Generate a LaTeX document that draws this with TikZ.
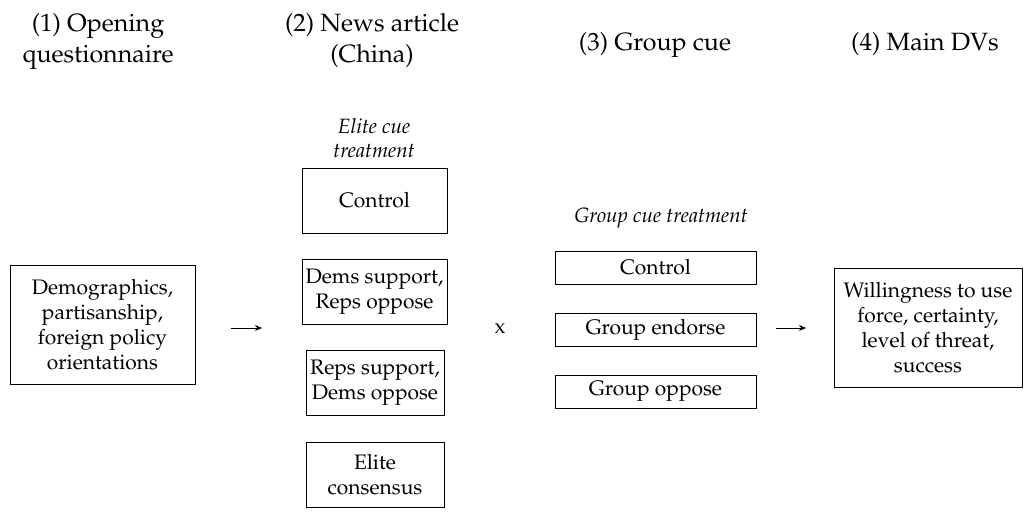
\documentclass[tikz,border=0pt]{standalone}
\usepackage[T1]{fontenc}
\usepackage{mathpazo}
\usetikzlibrary{arrows.meta}
\newcommand\bxfont{\fontsize{21}{25}\selectfont}
\newcommand\hdfont{\fontsize{25}{31}\selectfont}
\newcommand\lblfont{\fontsize{20.7}{24}\selectfont\itshape}
\begin{document}
\begin{tikzpicture}[x=1pt,y=1pt,
 bx/.style={draw,line width=0.8pt,align=center,inner sep=0pt,font=\bxfont},
 hd/.style={align=center,inner sep=0pt,font=\hdfont},
 lbl/.style={align=center,inner sep=0pt,font=\lblfont},
 arr/.style={line width=0.8pt,-{Stealth[length=7pt,width=6pt]}}]
\useasboundingbox (0,0) rectangle (1024,-527);
\node[hd] (h1) at (98,-41) {(1) Opening\\questionnaire};
\node[hd] (h2) at (372,-41) {(2) News article\\(China)};
\node[hd,anchor=base] (h3) at (655,-50) {(3) Group cue};
\node[hd,anchor=base] (h4) at (925,-50) {(4) Main DVs};
\node[bx,minimum width=185,minimum height=119] (demo) at (102.5,-324.5) {Demographics,\\partisanship,\\foreign policy\\orientations};
\node[lbl] (elbl) at (374,-138) {Elite cue\\treatment};
\node[bx,minimum width=145,minimum height=65] (e1) at (374.5,-200.5) {Control};
\node[bx,minimum width=145,minimum height=65] (e2) at (374.5,-291.5) {Dems support,\\Reps oppose};
\node[bx,minimum width=138,minimum height=65] (e3) at (375,-382.5) {Reps support,\\Dems oppose};
\node[bx,minimum width=138,minimum height=65] (e4) at (375,-474.5) {Elite\\consensus};
\node[font=\bxfont,inner sep=0pt] (times) at (500,-328) {x};
\node[lbl,anchor=base] (glbl) at (661,-222) {Group cue treatment};
\node[bx,minimum width=201,minimum height=33] (g1) at (655.5,-267.5) {Control};
\node[bx,minimum width=201,minimum height=33] (g2) at (655.5,-329.5) {Group endorse};
\node[bx,minimum width=201,minimum height=33] (g3) at (655.5,-391.5) {Group oppose};
\node[bx,minimum width=188,minimum height=119] (dv) at (928,-327.5) {Willingness to use\\force, certainty,\\level of threat,\\success};
\coordinate (a1s) at (231,-328);
\coordinate (a1e) at (262,-328);
\coordinate (a2s) at (776,-328);
\coordinate (a2e) at (806,-328);
\draw[arr] (a1s) -- (a1e);
\draw[arr] (a2s) -- (a2e);
\end{tikzpicture}
\end{document}
